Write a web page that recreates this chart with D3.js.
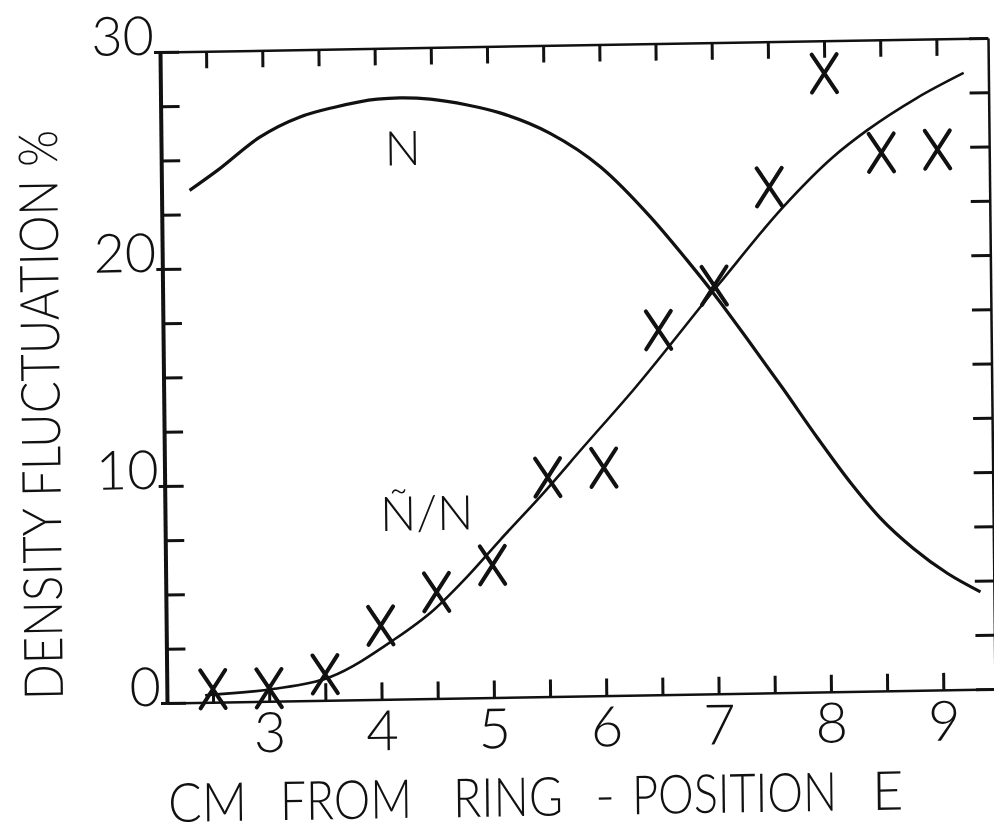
<!DOCTYPE html>
<html>
<head>
<meta charset="utf-8">
<script src="https://cdn.jsdelivr.net/npm/d3@7"></script>
<style>
  html, body { margin: 0; padding: 0; background: #fff; }
  svg text { font-family: Lato, "Open Sans", "DejaVu Sans", sans-serif; font-weight: 300; fill: #111; }
</style>
</head>
<body>
<svg id="chart" width="994" height="835"></svg>
<script>
// Distance from ring (cm) and measured relative density fluctuation (%)
const positions = [2.5, 3, 3.5, 4, 4.5, 5, 5.5, 6, 6.5, 7, 7.5, 8, 8.5, 9];
const fluctuation = [0.6, 0.6, 1.2, 3.4, 4.9, 6.1, 10.1, 10.5, 16.8, 18.8, 23.3, 28.5, 24.8, 24.9];

// Smooth fitted curve for Ñ/N
const ratioX = [2.43, 3.03, 3.54, 4.11, 4.47, 4.77, 5.07, 5.46, 5.82, 6.27, 7.05, 7.62, 8.07, 8.38, 8.82, 9.24];
const ratioY = [0.33, 0.56, 1.06, 2.72, 4.07, 5.57, 7.25, 9.38, 11.47, 14.06, 18.92, 22.37, 24.64, 25.86, 27.29, 28.41];

// Density profile N (arbitrary units on the same scale)
const densX = [2.34, 2.59, 2.97, 3.33, 3.62, 4.02, 4.22, 4.49, 4.82, 5.11, 5.55, 6.0, 6.44, 6.76, 6.99, 7.3, 7.6, 7.9, 8.2, 8.45, 8.75, 9.05, 9.34];
const densY = [23.6, 24.5, 26.0, 26.9, 27.3, 27.66, 27.7, 27.62, 27.32, 26.93, 25.96, 24.36, 22.01, 20.0, 18.47, 16.24, 14.02, 11.74, 9.58, 8.0, 6.53, 5.36, 4.49];

const xTickValues = [2.5, 3, 3.5, 4, 4.5, 5, 5.5, 6, 6.5, 7, 7.5, 8, 8.5, 9];
const xTickLabels = [3, 4, 5, 6, 7, 8, 9];
const yTickValues = [0, 2.5, 5, 7.5, 10, 12.5, 15, 17.5, 20, 22.5, 25, 27.5, 30];
const yTickLabels = [0, 10, 20, 30];

// x-axis title, set word by word along the skewed baseline
const xTitleWords = [
  { text: "CM", left: 160, width: 79 },
  { text: "FROM", left: 272, width: 132 },
  { text: "RING", left: 445, width: 110 },
  { text: "-", left: 587, width: 0 },
  { text: "POSITION", left: 624, width: 205 },
  { text: "E", left: 864, width: 0 }
];
const yTitle = "DENSITY FLUCTUATION %";
const curveLabels = [
  { text: "N", x: 4.24, y: 24.6 },
  { text: "Ñ/N", x: 4.42, y: 7.76 }
];

const frameLeft = 160, frameRight = 988, frameTop = 52, frameBottom = 703;

const x = d3.scaleLinear().domain([2.09, 9.46]).range([frameLeft, frameRight]);
const y = d3.scaleLinear().domain([0, 30]).range([frameBottom, frameTop]);

const svg = d3.select("#chart");
// the whole figure sits slightly askew on the page
const g = svg.append("g")
  .attr("transform", "matrix(1,-0.01689,0.01075,1,-0.559,2.702)");

const fmtX = d => xTickLabels.includes(d) ? String(d) : "";
const fmtY = d => yTickLabels.includes(d) ? String(d) : "";

// bottom axis with labels
const gx = g.append("g").attr("transform", `translate(0,${frameBottom})`)
  .call(d3.axisBottom(x).tickValues(xTickValues).tickSize(-17).tickSizeOuter(0).tickPadding(11).tickFormat(fmtX));
// top axis, ticks only
const gt = g.append("g").attr("transform", `translate(0,${frameTop})`)
  .call(d3.axisTop(x).tickValues(xTickValues).tickSize(-17).tickSizeOuter(0).tickFormat(""));
// left axis with labels
const gy = g.append("g").attr("transform", `translate(${frameLeft},0)`)
  .call(d3.axisLeft(y).tickValues(yTickValues).tickSize(-19).tickSizeOuter(0).tickPadding(6).tickFormat(fmtY));
// right axis, ticks only
const gr = g.append("g").attr("transform", `translate(${frameRight},0)`)
  .call(d3.axisRight(y).tickValues(yTickValues).tickSize(-19).tickSizeOuter(0).tickFormat(""));

[gx, gt, gy, gr].forEach(a => {
  a.select(".domain").attr("stroke", "#111").attr("stroke-width", 2.5);
  a.selectAll(".tick line").attr("stroke", "#111").attr("stroke-width", 3);
  a.selectAll(".tick text").style("font-size", "56px").attr("fill", "#111");
});
gy.select(".domain").attr("stroke-width", 4);
// y labels sit with their baseline on the tick
gy.selectAll(".tick text").attr("dy", "0").attr("y", 2).style("font-size", "54px");
// major left ticks poke slightly outside the frame
gy.selectAll(".tick").filter(d => yTickLabels.includes(d)).select("line").attr("x1", -6);

// curves
const line = d3.line().x(d => x(d[0])).y(d => y(d[1])).curve(d3.curveMonotoneX);
g.append("path").datum(densX.map((v, i) => [v, densY[i]]))
  .attr("d", line).attr("fill", "none").attr("stroke", "#111").attr("stroke-width", 3.2);
g.append("path").datum(ratioX.map((v, i) => [v, ratioY[i]]))
  .attr("d", line).attr("fill", "none").attr("stroke", "#111").attr("stroke-width", 2.6);

// X markers for measured points
const hw = 12.5, hh = 19;
g.append("g").selectAll("path").data(positions.map((v, i) => [v, fluctuation[i]]))
  .join("path")
  .attr("d", d => {
    const cx = x(d[0]), cy = y(d[1]);
    return `M${cx - hw},${cy - hh}L${cx + hw},${cy + hh}M${cx + hw},${cy - hh}L${cx - hw},${cy + hh}`;
  })
  .attr("fill", "none").attr("stroke", "#111").attr("stroke-width", 4).attr("stroke-linecap", "round");

// curve labels
g.selectAll("text.curve-label").data(curveLabels).join("text")
  .attr("class", "curve-label")
  .attr("x", d => x(d.x)).attr("y", d => y(d.y))
  .attr("text-anchor", "middle")
  .style("font-size", "48px")
  .text(d => d.text);

// axis titles: each word narrowed horizontally to its set width
g.append("g").selectAll("text").data(xTitleWords).join("text")
  .style("font-size", "54px")
  .text(d => d.text)
  .each(function (d) {
    const natural = this.getComputedTextLength();
    const sx = d.width > 0 && natural > 0 ? d.width / natural : 1;
    d3.select(this).attr("transform", `translate(${d.left},822) scale(${sx},1)`);
  });

g.append("text")
  .attr("transform", "translate(56,413) rotate(-90)")
  .attr("x", -285).attr("y", 0)
  .attr("textLength", 570).attr("lengthAdjust", "spacingAndGlyphs")
  .style("font-size", "54px")
  .text(yTitle);
</script>
</body>
</html>
